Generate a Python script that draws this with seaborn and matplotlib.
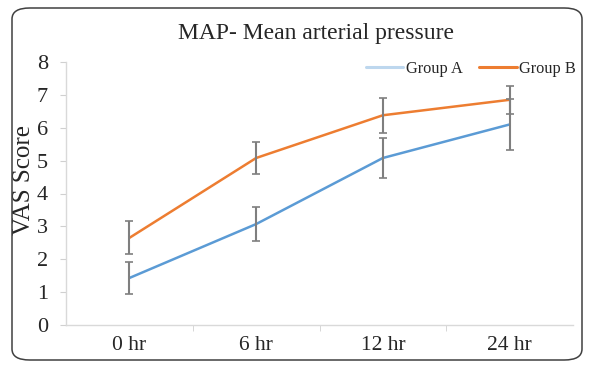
import pandas as pd
import seaborn as sns
import matplotlib.pyplot as plt
from matplotlib.lines import Line2D
from matplotlib.patches import FancyBboxPatch

# Values
times = ['0 hr', '6 hr', '12 hr', '24 hr']
group_a = [1.43, 3.07, 5.08, 6.10]
group_a_err = [0.50, 0.53, 0.61, 0.77]
group_b = [2.65, 5.08, 6.38, 6.85]
group_b_err = [0.50, 0.48, 0.53, 0.42]

df = pd.DataFrame({
    'time': times * 2,
    'score': group_a + group_b,
    'group': ['Group A'] * 4 + ['Group B'] * 4,
})

sns.set_style('white')
plt.rcParams['font.family'] = ['Liberation Serif', 'DejaVu Serif']

fig = plt.figure(figsize=(5.92, 3.67), dpi=100)
ax = fig.add_axes([66 / 592, 1 - 325 / 367, 507 / 592, 263 / 367])

colors = {'Group A': '#5b9bd5', 'Group B': '#ed7d31'}
sns.lineplot(data=df, x='time', y='score', hue='group', palette=colors,
             linewidth=1.8, legend=False, ax=ax, sort=False)

ax.errorbar(times, group_a, yerr=group_a_err, fmt='none', ecolor='#7f7f7f',
            elinewidth=1.5, capsize=3, capthick=1.2)
ax.errorbar(times, group_b, yerr=group_b_err, fmt='none', ecolor='#7f7f7f',
            elinewidth=1.5, capsize=3, capthick=1.2)

ax.set_xlim(-0.5, 3.5)
ax.set_ylim(0, 8)
ax.set_yticks(range(0, 9))
ax.set_xticks([0.5, 1.5, 2.5], minor=True)
ax.tick_params(axis='x', which='major', length=0, labelsize=15.5, pad=8)
ax.tick_params(axis='x', which='minor', length=4, color='#d0d0d0', direction='out', bottom=True)
ax.tick_params(axis='y', length=4, color='#d0d0d0', labelsize=16, left=True, direction='out', pad=9)
for side in ['top', 'right']:
    ax.spines[side].set_visible(False)
for side in ['left', 'bottom']:
    ax.spines[side].set_color('#d9d9d9')
    ax.spines[side].set_linewidth(1.0)

ax.set_xlabel('')
ax.set_ylabel('VAS Score', fontsize=18)
ax.yaxis.set_label_coords(-0.062, 0.55)

handles = [Line2D([], [], color='#bdd7ee', linewidth=2.2),
           Line2D([], [], color='#ed7d31', linewidth=2.2)]
ax.legend(handles, ['Group A', 'Group B'], loc='upper right', ncol=2, frameon=False,
          fontsize=11.8, bbox_to_anchor=(1.035, 1.06), handlelength=2.3,
          handletextpad=0.15, columnspacing=1.0)

fig.text(316 / 592, 1 - 33 / 367, 'MAP- Mean arterial pressure', ha='center', va='center', fontsize=17)

border = FancyBboxPatch((12 / 592, 7 / 367), 570 / 592, 352 / 367,
                        boxstyle='round,pad=0,rounding_size=0.03',
                        transform=fig.transFigure, fill=False,
                        edgecolor='#404040', linewidth=1.1)
fig.patches.append(border)

fig.savefig('out.png', dpi=100)
